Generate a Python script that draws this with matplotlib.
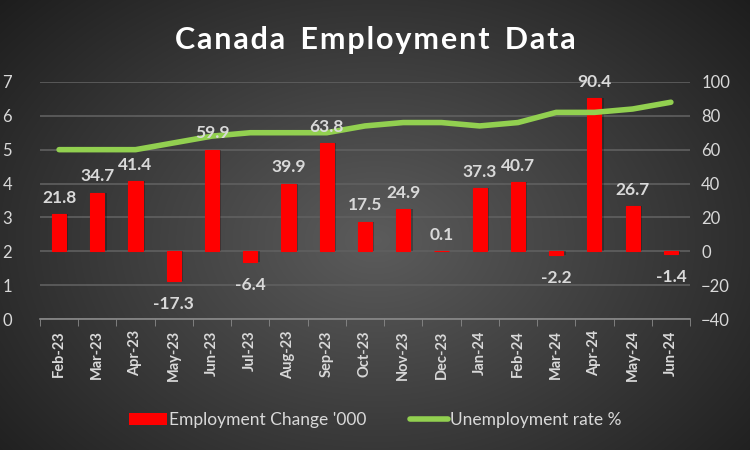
import numpy as np
import matplotlib
matplotlib.use("Agg")
import matplotlib.pyplot as plt
from matplotlib.patches import Patch
from matplotlib.lines import Line2D

months = ["Feb-23", "Mar-23", "Apr-23", "May-23", "Jun-23", "Jul-23", "Aug-23", "Sep-23",
          "Oct-23", "Nov-23", "Dec-23", "Jan-24", "Feb-24", "Mar-24", "Apr-24", "May-24", "Jun-24"]
employment_change = [21.8, 34.7, 41.4, -17.3, 59.9, -6.4, 39.9, 63.8, 17.5, 24.9, 0.1,
                     37.3, 40.7, -2.2, 90.4, 26.7, -1.4]
unemployment_rate = [5.0, 5.0, 5.0, 5.2, 5.4, 5.5, 5.5, 5.5, 5.7, 5.8, 5.8, 5.7, 5.8,
                     6.1, 6.1, 6.2, 6.4]

plt.rcParams['font.family'] = ['Lato', 'DejaVu Sans']
txt = '#d9d9d9'
grid_c = '#606060'

fig = plt.figure(figsize=(7.5, 4.5), dpi=100)

# radial gradient background
bg = fig.add_axes([0, 0, 1, 1], zorder=-10)
yy, xx = np.mgrid[0:450, 0:750]
r = np.sqrt(((xx - 375) / 430.0) ** 2 + ((yy - 240) / 310.0) ** 2)
v = np.clip(0.36 - 0.21 * r, 0.11, 0.4)
img = np.dstack([v, v, v])
bg.imshow(img, aspect='auto', extent=[0, 1, 0, 1])
bg.axis('off')

ax = fig.add_axes([0.0533, 0.291, 0.8667, 0.527])
ax.patch.set_alpha(0)
ax2 = ax.twinx()

x = np.arange(len(months))
# subtle shadow then bars
ax.bar(x + 0.06, employment_change, width=0.37, color='black', alpha=0.25, zorder=2)
ax.bar(x, employment_change, width=0.37, color='#ff0000', edgecolor='#ff0000',
       linewidth=0.8, zorder=3)
ax.set_ylim(-40, 100)
ax.set_yticks(np.arange(-40, 101, 20))
ax.set_xlim(-0.5, len(months) - 0.5)
ax.set_xticks(x)
ax.set_xticklabels(months, rotation=90, fontsize=10.5, fontweight='bold', color=txt)
ax.set_xticks(np.arange(-0.5, len(months), 1), minor=True)
ax.tick_params(axis='x', which='major', length=0, pad=8)
ax.tick_params(axis='x', which='minor', length=5, color='#8a8a8a')
for s in ['top', 'left', 'right']:
    ax.spines[s].set_visible(False)
ax.spines['bottom'].set_color('#8a8a8a')
ax.spines['bottom'].set_linewidth(1.2)
ax.grid(axis='y', color=grid_c, linewidth=1.2, zorder=0)
ax.set_axisbelow(True)

ax2.plot(x, unemployment_rate, color='#92d050', linewidth=4, solid_capstyle='round',
         solid_joinstyle='round', zorder=4)
ax2.set_ylim(0, 7)
ax2.set_yticks(np.arange(0, 8, 1))
for s in ax2.spines.values():
    s.set_visible(False)

# data labels drawn on top of the line (in the twin axes, positioned by bar data coords)
for xi, val in zip(x, employment_change):
    if val >= 0:
        ax2.annotate(f"{val:.1f}", (xi, val), xycoords=ax.transData, xytext=(0, 6),
                     textcoords='offset points', ha='center', va='bottom', fontsize=12.5,
                     fontweight='bold', color=txt, zorder=6)
    else:
        ax2.annotate(f"{val:.1f}", (xi, val), xycoords=ax.transData, xytext=(0, -11),
                     textcoords='offset points', ha='center', va='top', fontsize=12.5,
                     fontweight='bold', color=txt, zorder=6)

# axis sides: bars (employment change) on the right, rate on the left
ax.yaxis.set_ticks_position('right')
ax2.yaxis.set_ticks_position('left')
ax.tick_params(axis='y', length=0, labelsize=12, labelcolor=txt, pad=8,
               left=False, labelleft=False, right=False, labelright=True)
ax2.tick_params(axis='y', length=0, labelsize=12, labelcolor=txt, pad=20,
                left=False, labelleft=True, right=False, labelright=False)

title = "\u200a".join("Canada") + "\u2002" + "\u200a".join("Employment") + "\u2002" + "\u200a".join("Data")
fig.text(0.5, 0.91, title, ha='center', va='center', fontsize=22, fontweight='bold', color='white')

handles = [Patch(facecolor='#ff0000', edgecolor='none'),
           Line2D([0], [0], color='#92d050', linewidth=4, solid_capstyle='round')]
fig.legend(handles, ["Employment Change '000", "Unemployment rate %"],
           loc='center', bbox_to_anchor=(0.5, 0.066), ncol=2, frameon=False,
           fontsize=12.5, labelcolor=txt, handlelength=2.2, handletextpad=0.1, columnspacing=2.5)

fig.savefig("out.png", dpi=100)
